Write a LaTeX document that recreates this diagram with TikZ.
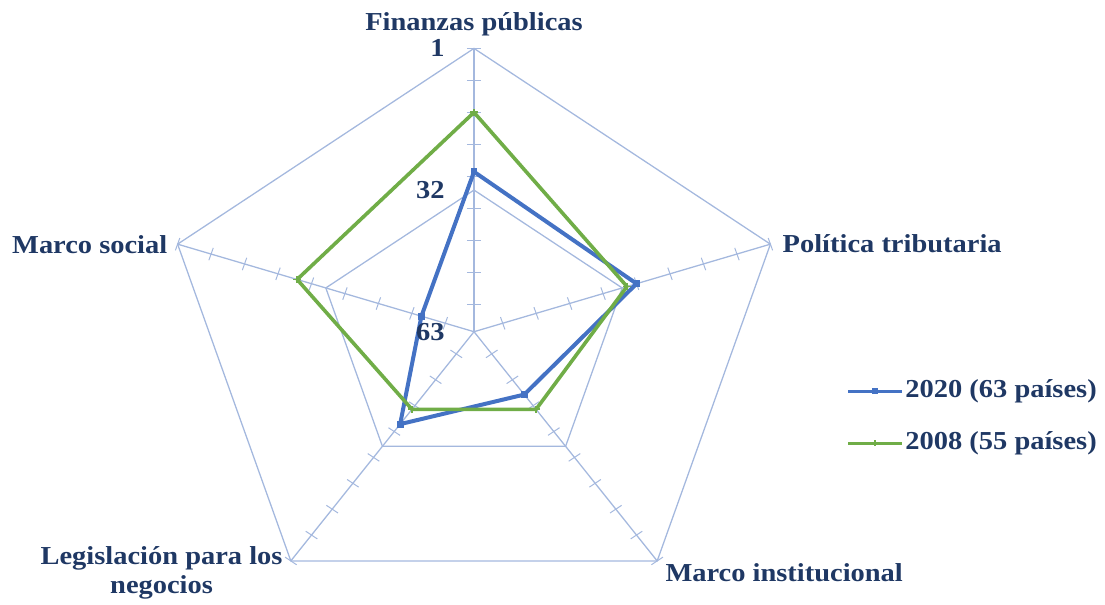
\documentclass[tikz,border=0pt]{standalone}
\usepackage{fontspec}
\setmainfont{Liberation Serif}
\usetikzlibrary{positioning}
\definecolor{txtblue}{HTML}{1F3864}
\definecolor{gridblue}{HTML}{A4B8DE}
\definecolor{serblue}{HTML}{4472C4}
\definecolor{sergreen}{HTML}{70AD47}
\tikzset{
  grid/.style={draw=gridblue, line width=0.32mm},
  axtick/.style={draw=gridblue, line width=0.25mm},
  lbl/.style={text=txtblue, inner sep=0pt, xscale=1.1,
              font=\bfseries\fontsize{18.4}{21}\selectfont},
  s2020/.style={draw=serblue, line width=1mm, line join=round},
  s2008/.style={draw=sergreen, line width=0.9mm, line join=round},
  sq/.style={fill=serblue, inner sep=0pt, minimum size=1.7mm},
  gplus/.style={draw=sergreen, line width=0.45mm}
}

\begin{document}
\begin{tikzpicture}[x=0.275mm, y=0.25mm]
\useasboundingbox (-430.9,-272.3) rectangle (573.6,331.7);
\coordinate (O) at (0,0);

% axes, rings and ticks
\foreach \a/\n in {90/fin, 18/pol, -54/ins, -126/leg, 162/soc}{
  \coordinate (\n) at (\a:283.3);
  \coordinate (\n-m) at (\a:141.65);
  \draw[grid] (O) -- (\n);
  \foreach \k in {0,...,8}
    \draw[axtick, shift={(\a:{4.5694*(62-7*\k)})}] (\a+90:6.5) -- (\a-90:6.5);
}
\draw[grid] (fin) -- (pol) -- (ins) -- (leg) -- (soc) -- cycle;
\draw[grid] (fin-m) -- (pol-m) -- (ins-m) -- (leg-m) -- (soc-m) -- cycle;

% ranks: 2020 / 2008
\foreach \a/\n/\u/\w in {90/fin/28/15, 18/pol/29/31, -54/ins/46/42,
                         -126/leg/38/42, 162/soc/52/26}{
  \coordinate (b-\n) at (\a:{4.5694*(63-\u)});
  \coordinate (g-\n) at (\a:{4.5694*(63-\w)});
}
\draw[s2020] (b-fin) -- (b-pol) -- (b-ins) -- (b-leg) -- (b-soc) -- cycle;
\foreach \n in {fin,pol,ins,leg,soc}
  \node[sq] (mb-\n) at (b-\n) {};
\draw[s2008] (g-fin) -- (g-pol) -- (g-ins) -- (g-leg) -- (g-soc) -- cycle;
\foreach \n in {fin,pol,ins,leg,soc}
  \draw[gplus] (g-\n) +(-3.5,0) -- +(3.5,0) +(0,-3.5) -- +(0,3.5);

\begin{scope}[every node/.style={lbl}]
\node [above=3mm of fin]              (t-fin) {Finanzas públicas};
\node [right=3mm of pol]              (t-pol) {Política tributaria};
\node [below right=0.6mm and 2mm of ins] (t-ins) {Marco institucional};
\node [left=2mm of leg, yshift=-3mm, align=center] (t-leg) {Legislación para los\\negocios};
\node [left=2.5mm of soc]             (t-soc) {Marco social};
\node [left=7.25mm of fin]            (v1)  {1};
\node [left=7.25mm of fin-m]          (v32) {32};
\node [left=7.25mm of O]              (v63) {63};
\end{scope}

% legend
\coordinate (k1) at (340,-59.3);
\coordinate (k1e) at (389,-59.3);
\coordinate (k2) at (340,-111.3);
\coordinate (k2e) at (389,-111.3);
\draw[s2020, line width=0.75mm] (k1) -- node[sq, minimum size=1.4mm] (k1m) {} (k1e);
\draw[s2008, line width=0.75mm] (k2) -- coordinate (k2m) (k2e);
\draw[gplus] (k2m) +(0,-3) -- +(0,3);
\node [lbl, right=0.8mm of k1e] (k1t) {2020 (63 países)};
\node [lbl, right=0.8mm of k2e] (k2t) {2008 (55 países)};
\end{tikzpicture}
\end{document}
